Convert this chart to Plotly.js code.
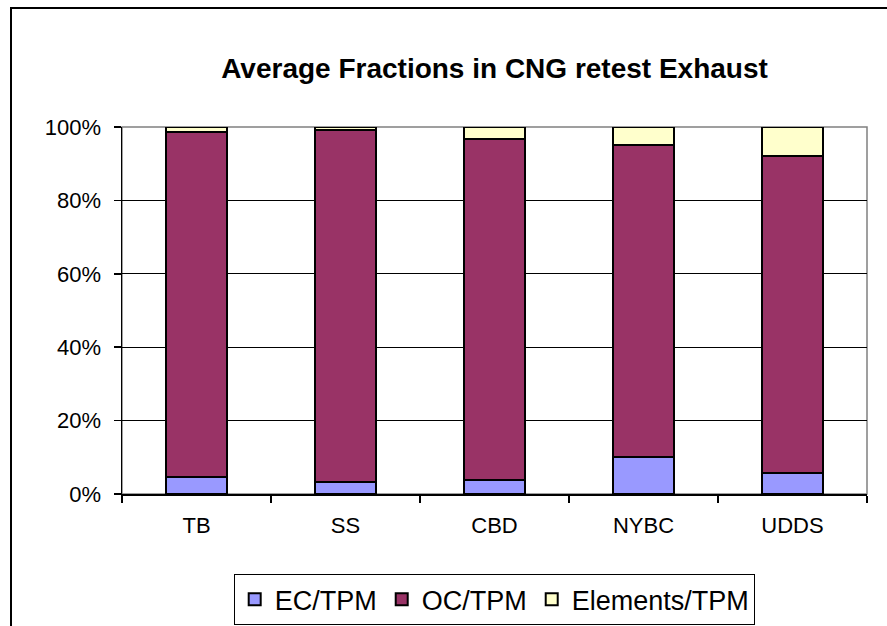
<!DOCTYPE html>
<html>
<head>
<meta charset="utf-8">
<script src="https://cdn.plot.ly/plotly-3.0.1.min.js"></script>
<style>
  html, body { margin: 0; padding: 0; background: #fff; }
  #wrap { position: relative; width: 887px; height: 626px; overflow: hidden; }
  #chart { width: 887px; height: 626px; }
  #frame { position: absolute; left: 10px; top: 7px; width: 900px; height: 700px;
           border-left: 2px solid #000; border-top: 2px solid #000; pointer-events: none; }
</style>
</head>
<body>
<div id="wrap">
  <div id="chart"></div>
  <div id="frame"></div>
</div>
<script>
const categories = ["TB", "SS", "CBD", "NYBC", "UDDS"];
const ecTPM = [0.046, 0.034, 0.039, 0.100, 0.058];
const ocTPM = [0.940, 0.959, 0.929, 0.851, 0.863];
const elementsTPM = [0.014, 0.007, 0.032, 0.049, 0.079];
const seriesNames = ["EC/TPM", "OC/TPM", "Elements/TPM"];
const yTicks = [0, 0.2, 0.4, 0.6, 0.8, 1.0];

const FONT = "Liberation Sans, Arial, Helvetica, sans-serif";
const colors = ["#9999FF", "#993366", "#FFFFCC"];
const values = [ecTPM, ocTPM, elementsTPM];

const traces = values.map((v, i) => ({
  type: "bar",
  name: seriesNames[i],
  x: categories,
  y: v,
  marker: { color: colors[i], line: { color: "#000000", width: 2 } },
  hoverinfo: "x+y+name"
}));

const layout = {
  width: 887,
  height: 626,
  margin: { l: 122, r: 20, t: 127, b: 132, autoexpand: false },
  paper_bgcolor: "#fff",
  plot_bgcolor: "#fff",
  barmode: "stack",
  bargap: 0.585,
  showlegend: true,
  title: {
    text: "<b>Average Fractions in CNG retest Exhaust</b>",
    font: { family: FONT, size: 28, color: "#000" },
    x: 0.5, xref: "paper", xanchor: "center",
    y: 1 - 68 / 626, yref: "container", yanchor: "middle"
  },
  xaxis: {
    type: "category",
    showline: true, linecolor: "#000", linewidth: 1.5,
    ticks: "outside", tickson: "boundaries", ticklen: 7, tickcolor: "#000", tickwidth: 1.5,
    tickfont: { family: FONT, size: 22, color: "#000" },
    ticklabelstandoff: 11,
    showgrid: false, zeroline: false, fixedrange: true
  },
  yaxis: {
    range: [0, 1],
    tickvals: yTicks,
    tickformat: ".0%",
    showline: true, linecolor: "#000", linewidth: 1.5,
    ticks: "outside", ticklen: 7, tickcolor: "#000", tickwidth: 1.5,
    tickfont: { family: FONT, size: 22, color: "#000" },
    ticklabelstandoff: 8,
    showgrid: true, gridcolor: "#000", gridwidth: 1,
    zeroline: false, fixedrange: true
  },
  legend: {
    orientation: "h",
    x: 0.5, xanchor: "center",
    y: -80 / 367, yanchor: "top",
    bordercolor: "#000", borderwidth: 1.2,
    bgcolor: "#fff",
    traceorder: "normal",
    font: { family: FONT, size: 27, color: "#000" }
  },
  shapes: [{
    type: "rect", xref: "paper", yref: "paper", x0: 0, x1: 1, y0: 0, y1: 1,
    line: { color: "#808080", width: 1.5 }, layer: "below"
  }]
};

Plotly.newPlot("chart", traces, layout, { displayModeBar: false, staticPlot: true });
</script>
</body>
</html>
